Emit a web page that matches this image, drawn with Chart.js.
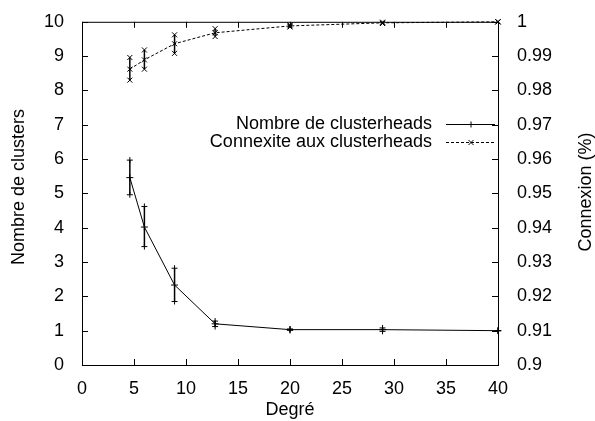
<!DOCTYPE html>
<html>
<head>
<meta charset="utf-8">
<script src="https://cdn.jsdelivr.net/npm/chart.js@4"></script>
<style>
  html, body { margin: 0; padding: 0; background: #fff; }
  #zone { width: 595px; height: 421px; }
</style>
</head>
<body>
<div id="zone"><canvas id="graphe"></canvas></div>
<script>
// Données
const degres = [4.6, 6.0, 8.9, 12.8, 20, 28.9, 40];
const nbClusters = [5.46, 4.02, 2.33, 1.2, 1.03, 1.03, 1.0];
const nbClustersMin = [4.96, 3.45, 1.85, 1.12, 1.01, 0.98, 1.0];
const nbClustersMax = [5.97, 4.62, 2.82, 1.28, 1.05, 1.08, 1.0];
const connexite = [0.9862, 0.9889, 0.9936, 0.9968, 0.9988, 0.9997, 1.0];
const connexiteMin = [0.9830, 0.9862, 0.9908, 0.9957, 0.9985, 0.9995, 1.0];
const connexiteMax = [0.9896, 0.9918, 0.9962, 0.9980, 0.9991, 0.9999, 1.0];

const libelles = ['Nombre de clusterheads', 'Connexite aux clusterheads'];
const police = '"Liberation Sans", Arial, Helvetica, sans-serif';
const taille = 18;

// petites croix façon gnuplot
function marque(ctx, x, y, style) {
    ctx.beginPath();
    if (style === 'plus') {
        ctx.moveTo(x - 3, y); ctx.lineTo(x + 3, y);
        ctx.moveTo(x, y - 3); ctx.lineTo(x, y + 3);
    } else {
        ctx.moveTo(x - 2.5, y - 2.5); ctx.lineTo(x + 2.5, y + 2.5);
        ctx.moveTo(x - 2.5, y + 2.5); ctx.lineTo(x + 2.5, y - 2.5);
    }
    ctx.stroke();
}

const decor = {
    id: 'decor',
    afterDatasetsDraw(chart) {
        const ctx = chart.ctx;
        const a = chart.chartArea;
        const sx = chart.scales.x, sy = chart.scales.y, sy2 = chart.scales.y2;
        ctx.save();
        ctx.strokeStyle = '#000';
        ctx.lineWidth = 1;

        // cadre + graduations vers l'intérieur
        ctx.strokeRect(a.left + 0.5, a.top + 0.5, a.right - a.left, a.bottom - a.top);
        ctx.beginPath();
        sx.ticks.forEach(t => {
            const px = Math.round(sx.getPixelForValue(t.value)) + 0.5;
            ctx.moveTo(px, a.bottom); ctx.lineTo(px, a.bottom - 6);
            ctx.moveTo(px, a.top); ctx.lineTo(px, a.top + 6);
        });
        sy.ticks.forEach(t => {
            const py = Math.round(sy.getPixelForValue(t.value)) + 0.5;
            ctx.moveTo(a.left, py); ctx.lineTo(a.left + 6, py);
        });
        sy2.ticks.forEach(t => {
            const py = Math.round(sy2.getPixelForValue(t.value)) + 0.5;
            ctx.moveTo(a.right, py); ctx.lineTo(a.right - 6, py);
        });
        ctx.stroke();

        // barres d'erreur
        const series = [
            { min: nbClustersMin, max: nbClustersMax, axe: sy, style: 'plus' },
            { min: connexiteMin, max: connexiteMax, axe: sy2, style: 'croix' }
        ];
        series.forEach(s => {
            degres.forEach((d, i) => {
                const px = sx.getPixelForValue(d);
                const haut = s.axe.getPixelForValue(s.max[i]);
                const bas = s.axe.getPixelForValue(s.min[i]);
                ctx.lineWidth = 1.5;
                ctx.beginPath();
                ctx.moveTo(px, haut); ctx.lineTo(px, bas);
                ctx.stroke();
                ctx.lineWidth = 1;
                marque(ctx, px, haut, s.style);
                marque(ctx, px, bas, s.style);
            });
        });

        // légende
        ctx.font = taille + 'px ' + police;
        ctx.fillStyle = '#000';
        ctx.textAlign = 'right';
        ctx.textBaseline = 'middle';
        const lignes = [124, 142];
        libelles.forEach((txt, i) => {
            ctx.fillText(txt, 432, lignes[i]);
            ctx.beginPath();
            ctx.setLineDash(i === 0 ? [] : [3, 2]);
            ctx.moveTo(446, lignes[i] + 0.5); ctx.lineTo(495, lignes[i] + 0.5);
            ctx.stroke();
            ctx.setLineDash([]);
            marque(ctx, 471, lignes[i] + 0.5, i === 0 ? 'plus' : 'croix');
        });

        // titres des axes
        ctx.textAlign = 'center';
        ctx.fillText('Degré', (a.left + a.right) / 2, 410);
        ctx.save();
        ctx.translate(19, 187);
        ctx.rotate(-Math.PI / 2);
        ctx.fillText('Nombre de clusters', 0, 0);
        ctx.restore();
        ctx.save();
        ctx.translate(586, 192);
        ctx.rotate(-Math.PI / 2);
        ctx.fillText('Connexion (%)', 0, 0);
        ctx.restore();

        ctx.restore();
    }
};

const ctx = document.getElementById('graphe').getContext('2d');
new Chart(ctx, {
    type: 'line',
    data: {
        datasets: [{
            label: libelles[0],
            data: degres.map((d, i) => ({ x: d, y: nbClusters[i] })),
            yAxisID: 'y',
            borderColor: '#000',
            borderWidth: 1,
            pointStyle: 'cross',
            pointRadius: 3.5,
            pointBorderColor: '#000',
            pointBorderWidth: 1,
            fill: false,
            tension: 0,
            clip: false
        }, {
            label: libelles[1],
            data: degres.map((d, i) => ({ x: d, y: connexite[i] })),
            yAxisID: 'y2',
            borderColor: '#000',
            borderWidth: 1,
            borderDash: [3, 2],
            pointStyle: 'crossRot',
            pointRadius: 3.5,
            pointBorderColor: '#000',
            pointBorderWidth: 1,
            fill: false,
            tension: 0,
            clip: false
        }]
    },
    options: {
        responsive: true,
        maintainAspectRatio: false,
        animation: false,
        layout: { padding: { top: 19, left: 0, right: 0, bottom: 0 } },
        plugins: {
            legend: { display: false },
            tooltip: { enabled: false }
        },
        scales: {
            x: {
                type: 'linear',
                min: 0, max: 40,
                grid: { display: false },
                border: { display: false },
                ticks: { stepSize: 5, color: '#000', padding: 5, maxRotation: 0,
                         font: { family: police, size: taille } },
                afterFit: s => { s.height = 56; }
            },
            y: {
                position: 'left',
                min: 0, max: 10,
                grid: { display: false },
                border: { display: false },
                ticks: { stepSize: 1, color: '#000', padding: 10,
                         font: { family: police, size: taille } },
                afterFit: s => { s.width = 82; }
            },
            y2: {
                position: 'right',
                min: 0.9, max: 1,
                grid: { display: false },
                border: { display: false },
                ticks: { stepSize: 0.01, color: '#000', padding: 11,
                         font: { family: police, size: taille },
                         callback: v => String(parseFloat(v.toFixed(2))) },
                afterFit: s => { s.width = 97; }
            }
        }
    },
    plugins: [decor]
});
</script>
</body>
</html>
